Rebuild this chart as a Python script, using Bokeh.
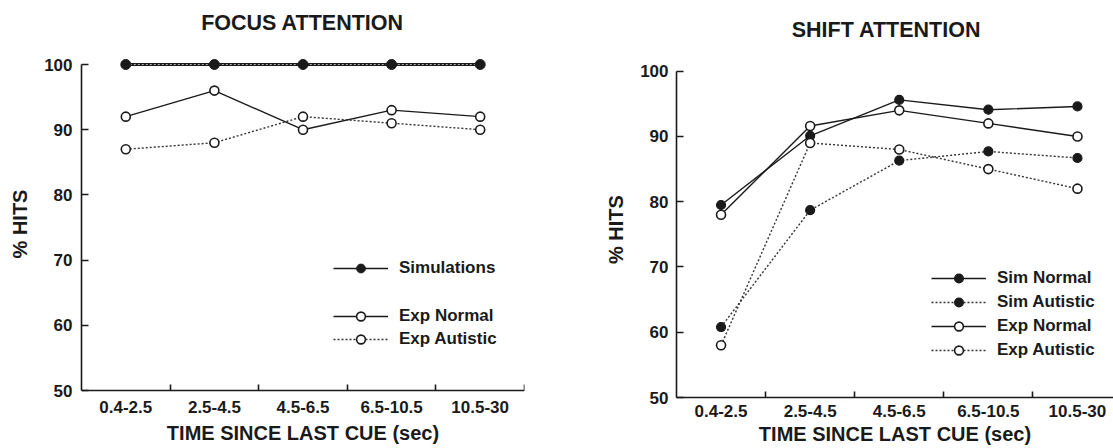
from bokeh.plotting import figure
from bokeh.models import Range1d, FixedTicker, Legend, LegendItem, Label, LinearAxis
from bokeh.layouts import row
from bokeh.embed import file_html
from bokeh.resources import INLINE

categories = ["0.4-2.5", "2.5-4.5", "4.5-6.5", "6.5-10.5", "10.5-30"]
y_ticks = [50, 60, 70, 80, 90, 100]

focus_sim = [100, 100, 100, 100, 100]
focus_exp_normal = [92, 96, 90, 93, 92]
focus_exp_autistic = [87, 88, 92, 91, 90]

shift_sim_normal = [79.5, 90.1, 95.6, 94.1, 94.6]
shift_sim_autistic = [60.8, 78.7, 86.3, 87.7, 86.7]
shift_exp_normal = [78.0, 91.6, 94.0, 92.0, 90.0]
shift_exp_autistic = [58.0, 89.0, 88.0, 85.0, 82.0]

FONT = "Liberation Sans"
INK = "#1a1a1a"
H = 448
FRAME_BOTTOM = 51
NB = "\u00a0"
xs = [i + 0.5 for i in range(len(categories))]
bounds = [float(i) for i in range(1, len(categories) + 1)]


def style_axis(ax):
    ax.axis_line_color = INK
    ax.axis_line_width = 1.6
    ax.major_tick_line_color = INK
    ax.major_tick_line_width = 1.6
    ax.minor_tick_line_color = INK
    ax.minor_tick_line_width = 1.6
    ax.major_label_text_font = FONT
    ax.major_label_text_font_size = "17px"
    ax.major_label_text_font_style = "bold"
    ax.major_label_text_color = INK
    ax.axis_label_text_font = FONT
    ax.axis_label_text_font_size = "20px"
    ax.axis_label_text_font_style = "bold"
    ax.axis_label_text_color = INK


def make_fig(width, x_end, y_start, y_end, min_left, min_right,
             tick_standoff, label_standoff, ytick_standoff, ylabel_pad):
    p = figure(width=width, height=H, output_backend="svg", toolbar_location=None,
               x_range=Range1d(0, x_end), y_range=Range1d(y_start, y_end),
               min_border_left=min_left, min_border_right=min_right,
               min_border_top=0, min_border_bottom=FRAME_BOTTOM)
    p.outline_line_color = None
    p.grid.visible = False
    p.background_fill_color = "white"

    xa = p.xaxis[0]
    style_axis(xa)
    xa.ticker = FixedTicker(ticks=xs, minor_ticks=bounds)
    xa.major_label_overrides = {x: c for x, c in zip(xs, categories)}
    xa.major_tick_in = 0
    xa.major_tick_out = 0
    xa.minor_tick_in = 6
    xa.minor_tick_out = 0
    xa.major_label_standoff = tick_standoff
    xa.axis_label = "TIME SINCE LAST CUE (sec)"
    xa.axis_label_standoff = label_standoff

    ya = p.yaxis[0]
    style_axis(ya)
    ya.ticker = FixedTicker(ticks=y_ticks, minor_ticks=[])
    ya.bounds = (50, 100)
    ya.major_tick_in = 7
    ya.major_tick_out = 0
    ya.minor_tick_in = 0
    ya.minor_tick_out = 0
    ya.major_label_standoff = ytick_standoff
    ya.axis_label = "% HITS" + NB * ylabel_pad
    ya.axis_label_standoff = 10
    return p


def title_label(p, text, x, y):
    p.add_layout(Label(x=x, y=y, x_units="screen", y_units="screen", text=text,
                       text_align="center", text_baseline="middle",
                       text_font=FONT, text_font_size="21.5px",
                       text_font_style="bold", text_color=INK))


def series(p, ys, dashed, filled):
    if dashed:
        ln = p.line(xs, ys, line_color="#333333", line_width=1.4, line_dash="2 2")
    else:
        ln = p.line(xs, ys, line_color=INK, line_width=1.4)
    if filled:
        mk = p.scatter(xs, ys, marker="circle", size=9, fill_color=INK,
                       line_color=INK, line_width=1.2)
    else:
        mk = p.scatter(xs, ys, marker="circle", size=9, fill_color="white",
                       line_color=INK, line_width=1.6)
    return [ln, mk]


def legend(p, items, x, y, spacing):
    lg = Legend(items=[LegendItem(label=l, renderers=r) for l, r in items],
                location=(x, y), orientation="vertical",
                glyph_width=55, glyph_height=22, label_standoff=11,
                padding=0, margin=0, spacing=spacing,
                border_line_color=None, background_fill_alpha=0,
                label_text_font=FONT, label_text_font_size="17px",
                label_text_font_style="bold", label_text_color=INK)
    p.add_layout(lg, "center")


# frames span y = 0 .. 397 px on both panels
s1 = (390 - 64) / 50.0
s2 = (397 - 70.7) / 50.0

# ---------- FOCUS ATTENTION ----------
p1 = make_fig(546, 5, 50 - 7 / s1, 100 + 64 / s1, 81, 22, 3, 6, 9, 9)
# bottom axis of the left panel only carries the labels; its rule sits at y = 50
p1.xaxis[0].axis_line_color = None
p1.xaxis[0].minor_tick_line_color = None
rule = LinearAxis(fixed_location=50, ticker=FixedTicker(ticks=[], minor_ticks=bounds),
                  major_label_text_font_size="0px", major_tick_in=0, major_tick_out=0,
                  minor_tick_in=6, minor_tick_out=0)
style_axis(rule)
rule.major_label_text_font_size = "0px"
p1.add_layout(rule, "below")

r_en = series(p1, focus_exp_normal, False, False)
r_ea = series(p1, focus_exp_autistic, True, False)
sim_ln = p1.line(xs, focus_sim, line_color=INK, line_width=1.6)
p1.line(xs, focus_sim, line_color=INK, line_width=3.2)
p1.line(xs, focus_sim, line_color="#aaaaaa", line_width=1, line_dash="2 2")
sim_mk = p1.scatter(xs, focus_sim, marker="circle", size=10, fill_color=INK,
                    line_color=INK)
legend(p1, [("Simulations", [sim_ln, sim_mk])], 252, 118, 0)
legend(p1, [("Exp Normal", r_en), ("Exp Autistic", r_ea)], 252, 47, 1)
title_label(p1, "FOCUS ATTENTION", 221, 375)

# ---------- SHIFT ATTENTION ----------
p2 = make_fig(567, 437 / 89.1, 50, 100 + 70.7 / s2, 130, 0, 7, 3, 8, 11)
r_sn = series(p2, shift_sim_normal, False, True)
r_sa = series(p2, shift_sim_autistic, True, True)
r_xn = series(p2, shift_exp_normal, False, False)
r_xa = series(p2, shift_exp_autistic, True, False)
legend(p2, [("Sim Normal", r_sn), ("Sim Autistic", r_sa),
            ("Exp Normal", r_xn), ("Exp Autistic", r_xa)], 255, 36, 2)
title_label(p2, "SHIFT ATTENTION", 210, 367.5)

layout = row(p1, p2, spacing=0)
open("out.html", "w").write(file_html(layout, INLINE))
